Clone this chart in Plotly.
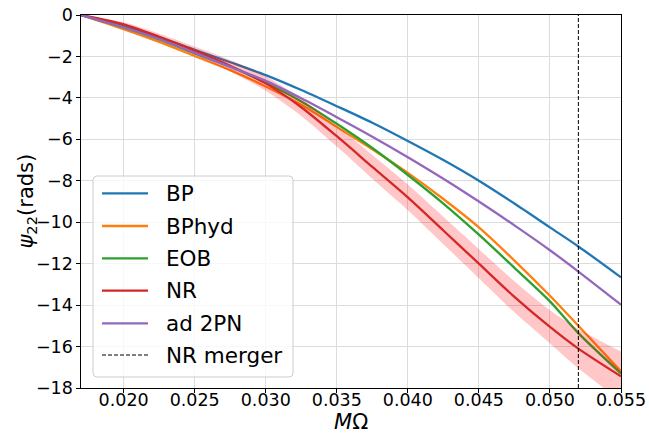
import plotly.graph_objects as go

# ---------------- data ----------------
m_omega = [0.017, 0.020, 0.0225, 0.025, 0.0275, 0.030, 0.0325, 0.035, 0.0375,
           0.040, 0.0425, 0.045, 0.0475, 0.050, 0.052, 0.055]
bp = [0.0, -0.55, -1.07, -1.68, -2.28, -2.90, -3.62, -4.40, -5.20,
      -6.08, -7.00, -8.00, -9.10, -10.25, -11.17, -12.66]
bphyd = [0.0, -0.68, -1.30, -1.98, -2.66, -3.45, -4.33, -5.40, -6.48,
         -7.62, -8.88, -10.25, -11.85, -13.55, -15.00, -17.20]
eob = [0.0, -0.60, -1.18, -1.85, -2.50, -3.27, -4.17, -5.25, -6.42,
       -7.72, -9.10, -10.60, -12.20, -13.82, -15.35, -17.30]
nr = [0.0, -0.45, -1.05, -1.72, -2.45, -3.30, -4.45, -5.85, -7.33,
      -8.80, -10.40, -12.00, -13.60, -15.05, -16.10, -17.44]
nr_err = [0.0, 0.10, 0.15, 0.20, 0.28, 0.35, 0.42, 0.50, 0.57,
          0.62, 0.66, 0.70, 0.75, 0.80, 0.95, 1.20]
ad2pn = [0.0, -0.60, -1.17, -1.83, -2.50, -3.18, -4.02, -4.93, -5.87,
         -6.86, -7.90, -9.00, -10.15, -11.35, -12.38, -13.98]
merger_x = 0.052

legend_labels = ["BP", "BPhyd", "EOB", "NR", "ad 2PN", "NR merger"]
x_ticks = [0.020, 0.025, 0.030, 0.035, 0.040, 0.045, 0.050, 0.055]
y_ticks = [0, -2, -4, -6, -8, -10, -12, -14, -16, -18]
x_range = [0.017, 0.055]
y_range = [-18, 0]

# ---------------- styling ----------------
colors = {"BP": "#1f77b4", "BPhyd": "#ff7f0e", "EOB": "#2ca02c",
          "NR": "#d62728", "ad 2PN": "#9467bd", "NR merger": "black"}
FONT = "DejaVu Sans"
W, H = 649, 433
ML, MR, MT, MB = 81, 28, 15, 45
PW, PH = W - ML - MR, H - MT - MB
LW = 2.3


def pxx(px):
    return (px - ML) / PW


def pxy(py):
    return 1 - (py - MT) / PH


fig = go.Figure()


def add_line(name, y):
    fig.add_trace(go.Scatter(x=m_omega, y=y, mode="lines", name=name, showlegend=False,
                             line=dict(color=colors[name], width=LW, shape="spline", smoothing=0.8)))


add_line("BP", bp)
add_line("BPhyd", bphyd)
add_line("EOB", eob)

upper = [v + e for v, e in zip(nr, nr_err)]
lower = [v - e for v, e in zip(nr, nr_err)]
fig.add_trace(go.Scatter(x=m_omega, y=upper, mode="lines",
                         line=dict(width=0, shape="spline", smoothing=0.8),
                         showlegend=False, hoverinfo="skip"))
fig.add_trace(go.Scatter(x=m_omega, y=lower, mode="lines",
                         line=dict(width=0, shape="spline", smoothing=0.8),
                         fill="tonexty", fillcolor="rgba(255,0,0,0.22)",
                         showlegend=False, hoverinfo="skip"))
add_line("NR", nr)
add_line("ad 2PN", ad2pn)

fig.add_trace(go.Scatter(x=[merger_x, merger_x], y=y_range, mode="lines", name="NR merger",
                         showlegend=False,
                         line=dict(color="black", width=1, dash="4px,2px")))

# ---------------- manual legend (matplotlib style) ----------------
bx0, bx1, by0, by1, r = 93, 293, 176, 377, 4
rx, ry = r / PW, r / PH
X0, X1, Y0, Y1 = pxx(bx0), pxx(bx1), pxy(by0), pxy(by1)
path = (f"M {X0+rx},{Y0} L {X1-rx},{Y0} Q {X1},{Y0} {X1},{Y0-ry} "
        f"L {X1},{Y1+ry} Q {X1},{Y1} {X1-rx},{Y1} L {X0+rx},{Y1} "
        f"Q {X0},{Y1} {X0},{Y1+ry} L {X0},{Y0-ry} Q {X0},{Y0} {X0+rx},{Y0} Z")
fig.add_shape(type="path", path=path, xref="paper", yref="paper",
              fillcolor="rgba(255,255,255,0.8)", line=dict(color="#cccccc", width=1),
              layer="above")

entry_y = [193.3, 226, 258.3, 290.7, 323.3, 355]
for label, ey in zip(legend_labels, entry_y):
    is_dash = label == "NR merger"
    fig.add_shape(type="line", xref="paper", yref="paper",
                  x0=pxx(102), x1=pxx(148), y0=pxy(ey), y1=pxy(ey),
                  line=dict(color=colors[label], width=1 if is_dash else LW,
                            dash="4px,2px" if is_dash else "solid"),
                  layer="above")
    fig.add_annotation(text=label, xref="paper", yref="paper", x=pxx(164), y=pxy(ey),
                       xanchor="left", yanchor="middle", showarrow=False,
                       font=dict(family=FONT, size=21.5, color="black"))

# ---------------- axis titles ----------------
fig.add_annotation(text="<i>M</i>Ω", xref="paper", yref="paper", x=0.5, y=pxy(422),
                   xanchor="center", yanchor="middle", showarrow=False,
                   font=dict(family=FONT, size=21, color="black"))
fig.add_annotation(text="<i>ψ</i><sub>22</sub>(rads)", xref="paper", yref="paper",
                   x=pxx(26), y=0.5, xanchor="center", yanchor="middle", textangle=-90,
                   showarrow=False, font=dict(family=FONT, size=21, color="black"))

axis_common = dict(showline=True, linecolor="black", linewidth=1.3, mirror=True,
                   ticks="outside", ticklen=3.5, tickwidth=1.2, tickcolor="black",
                   showgrid=True, gridcolor="#dcdcdc", gridwidth=1, zeroline=False,
                   automargin=False,
                   tickfont=dict(family=FONT, size=17.5, color="black"))

fig.update_layout(
    width=W, height=H,
    margin=dict(l=ML, r=MR, t=MT, b=MB, autoexpand=False),
    paper_bgcolor="white", plot_bgcolor="white",
    font=dict(family=FONT, color="black"),
    xaxis=dict(range=x_range, tickvals=x_ticks, tickformat=".3f",
               ticklabelstandoff=-8, **axis_common),
    yaxis=dict(range=y_range, tickvals=y_ticks, **axis_common),
    showlegend=False,
)

fig.write_html("out.html", config={"displayModeBar": False},
               post_script="document.body.style.margin='0px';document.body.style.overflow='hidden';")
